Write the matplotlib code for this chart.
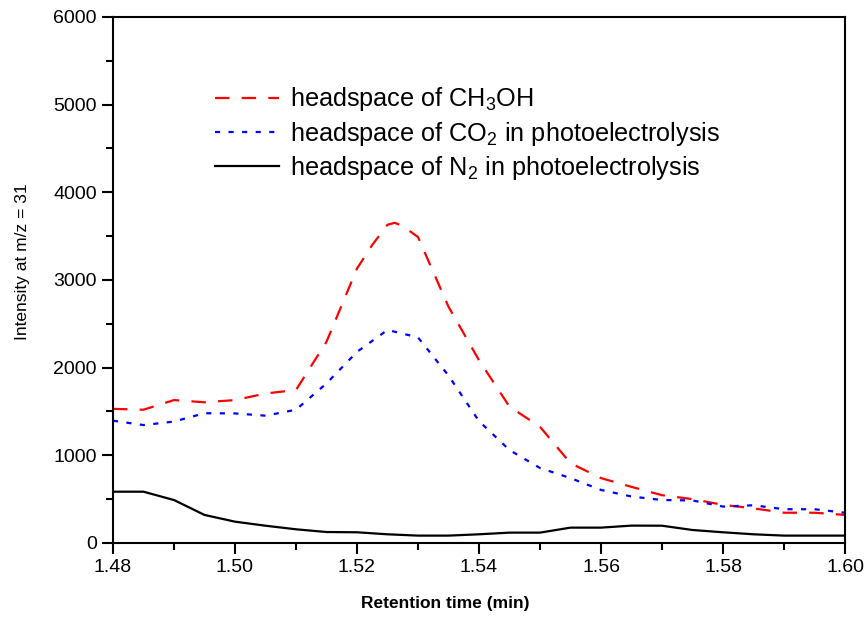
import numpy as np
import matplotlib
matplotlib.use('Agg')
import matplotlib.pyplot as plt

plt.rcParams['font.family'] = ['Liberation Sans', 'DejaVu Sans']
plt.rcParams['mathtext.fontset'] = 'custom'
plt.rcParams['mathtext.rm'] = 'Liberation Sans'
plt.rcParams['mathtext.it'] = 'Liberation Sans:italic'
plt.rcParams['mathtext.bf'] = 'Liberation Sans:bold'

# === Data: retention time (min) and intensity at m/z = 31 ===
time_ch3oh = [1.480, 1.485, 1.490, 1.495, 1.500, 1.505, 1.510, 1.515, 1.520, 1.5225,
              1.525, 1.5262, 1.5275, 1.530, 1.535, 1.540, 1.545, 1.550, 1.555, 1.560,
              1.565, 1.570, 1.575, 1.580, 1.585, 1.590, 1.595, 1.600]
ch3oh = [1530, 1520, 1630, 1605, 1630, 1705, 1745, 2295, 3130, 3400,
         3630, 3652, 3615, 3490, 2695, 2085, 1555, 1325, 910, 740,
         640, 545, 500, 435, 395, 345, 345, 320]

time_min = [1.480, 1.485, 1.490, 1.495, 1.500, 1.505, 1.510, 1.515, 1.520, 1.525,
            1.530, 1.535, 1.540, 1.545, 1.550, 1.555, 1.560, 1.565, 1.570, 1.575,
            1.580, 1.585, 1.590, 1.595, 1.600]

co2_photo = [1395, 1345, 1385, 1480, 1478, 1452, 1520, 1820, 2180, 2430,
             2345, 1910, 1390, 1060, 855, 740, 605, 530, 490, 485,
             415, 430, 385, 385, 345]

n2_photo = [585, 585, 490, 320, 243, 197, 156, 125, 122, 99,
            84, 84, 99, 118, 118, 175, 175, 198, 197, 148,
            122, 99, 84, 84, 84]

labels = ['headspace of CH$_3$OH',
          'headspace of CO$_2$ in photoelectrolysis',
          'headspace of N$_2$ in photoelectrolysis']

# === Plot ===
fig = plt.figure(figsize=(8.65, 6.18), dpi=100)
ax = fig.add_axes([0.1306, 0.1214, 0.8463, 0.8511])

ax.plot(time_ch3oh, ch3oh, color='red', lw=1.6, dashes=(6.5, 5.5), label=labels[0])
ax.plot(time_min, co2_photo, color='blue', lw=1.6, dashes=(2.3, 3.8), label=labels[1])
ax.plot(time_min, n2_photo, color='black', lw=1.6, label=labels[2])

ax.set_xlim(1.48, 1.60)
ax.set_ylim(0, 6000)
ax.set_xticks(np.arange(1.48, 1.601, 0.02))
ax.set_xticks(np.arange(1.49, 1.60, 0.02), minor=True)
ax.set_yticks(np.arange(0, 6001, 1000))
ax.set_yticks(np.arange(500, 6000, 1000), minor=True)
ax.xaxis.set_major_formatter(matplotlib.ticker.FormatStrFormatter('%.2f'))

ax.tick_params(which='both', direction='out', top=False, right=False, width=1.5,
               labelsize=14)
ax.tick_params(which='major', length=8)
ax.tick_params(which='minor', length=5)
for sp in ax.spines.values():
    sp.set_linewidth(1.5)

ax.set_xlabel('Retention time (min)', fontsize=12.5, fontweight='bold')
ax.set_ylabel('Intensity at m/z = 31', fontsize=12.5)
ax.xaxis.set_label_coords(0.4536, -0.101)
ax.yaxis.set_label_coords(-0.114, 0.534)

ax.legend(loc='upper left', bbox_to_anchor=(0.14, 0.87), frameon=False,
          fontsize=18.2, handlelength=2.5, handletextpad=0.45, labelspacing=0.25,
          borderpad=0, borderaxespad=0)

fig.savefig('out.png', dpi=100)
